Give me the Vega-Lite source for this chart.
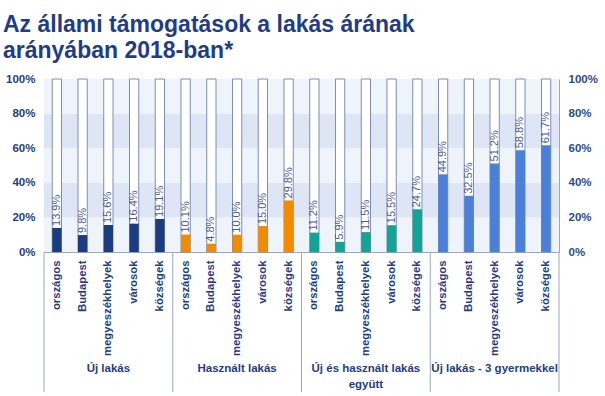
{
  "$schema": "https://vega.github.io/schema/vega-lite/v6.json",
  "autosize": {"type": "none"},
  "width": 515,
  "height": 173,
  "padding": {"left": 44, "top": 79, "right": 46, "bottom": 144},
  "background": "white",
  "title": {
    "text": ["Az állami támogatások a lakás árának", "arányában 2018-ban*"],
    "anchor": "start",
    "frame": "group",
    "font": "Liberation Sans",
    "fontWeight": "bold",
    "fontSize": 23,
    "color": "#1f3c88",
    "lineHeight": 26,
    "dx": -41,
    "offset": 10
  },
  "config": {"view": {"stroke": null}},
  "datasets": {
    "bars": [
      {"key": "1 országos", "group": "Új lakás", "value": 0.139},
      {"key": "1 Budapest", "group": "Új lakás", "value": 0.098},
      {"key": "1 megyeszékhelyek", "group": "Új lakás", "value": 0.156},
      {"key": "1 városok", "group": "Új lakás", "value": 0.164},
      {"key": "1 községek", "group": "Új lakás", "value": 0.191},
      {"key": "2 országos", "group": "Használt lakás", "value": 0.101},
      {"key": "2 Budapest", "group": "Használt lakás", "value": 0.048},
      {"key": "2 megyeszékhelyek", "group": "Használt lakás", "value": 0.100},
      {"key": "2 városok", "group": "Használt lakás", "value": 0.150},
      {"key": "2 községek", "group": "Használt lakás", "value": 0.298},
      {"key": "3 országos", "group": "Új és használt lakás együtt", "value": 0.112},
      {"key": "3 Budapest", "group": "Új és használt lakás együtt", "value": 0.059},
      {"key": "3 megyeszékhelyek", "group": "Új és használt lakás együtt", "value": 0.115},
      {"key": "3 városok", "group": "Új és használt lakás együtt", "value": 0.155},
      {"key": "3 községek", "group": "Új és használt lakás együtt", "value": 0.247},
      {"key": "4 országos", "group": "Új lakás - 3 gyermekkel", "value": 0.449},
      {"key": "4 Budapest", "group": "Új lakás - 3 gyermekkel", "value": 0.325},
      {"key": "4 megyeszékhelyek", "group": "Új lakás - 3 gyermekkel", "value": 0.512},
      {"key": "4 városok", "group": "Új lakás - 3 gyermekkel", "value": 0.588},
      {"key": "4 községek", "group": "Új lakás - 3 gyermekkel", "value": 0.617}
    ],
    "bands": [
      {"lo": 0.0, "hi": 0.2, "shade": "light"},
      {"lo": 0.2, "hi": 0.4, "shade": "dark"},
      {"lo": 0.4, "hi": 0.6, "shade": "light"},
      {"lo": 0.6, "hi": 0.8, "shade": "dark"},
      {"lo": 0.8, "hi": 1.0, "shade": "light"}
    ],
    "groups": [
      {"key": "1 megyeszékhelyek", "label": "Új lakás"},
      {"key": "2 megyeszékhelyek", "label": "Használt lakás"},
      {"key": "3 megyeszékhelyek", "label": "Új és használt lakás\negyütt"},
      {"key": "4 megyeszékhelyek", "label": "Új lakás - 3 gyermekkel"}
    ],
    "seps": [
      {"key": "1 országos", "edge": "start"},
      {"key": "2 országos", "edge": "start"},
      {"key": "3 országos", "edge": "start"},
      {"key": "4 országos", "edge": "start"},
      {"key": "4 községek", "edge": "end"}
    ]
  },
  "resolve": {"axis": {"y": "independent"}},
  "layer": [
    {
      "data": {"name": "bands"},
      "mark": {"type": "rect"},
      "encoding": {
        "y": {
          "field": "lo", "type": "quantitative",
          "scale": {"domain": [0, 1], "nice": false},
          "axis": {
            "orient": "left", "values": [0, 0.2, 0.4, 0.6, 0.8, 1], "format": "%",
            "title": null, "grid": false, "ticks": false,
            "domain": true, "domainColor": "#9aa6c8", "domainWidth": 1,
            "labelFont": "Liberation Sans", "labelFontWeight": "bold", "labelFontSize": 11.5,
            "labelColor": "#1f3c88", "labelPadding": 9
          }
        },
        "y2": {"field": "hi"},
        "fill": {
          "field": "shade", "type": "nominal",
          "scale": {"domain": ["light", "dark"], "range": ["#eff3fa", "#dee6f5"]},
          "legend": null
        }
      }
    },
    {
      "data": {"name": "bars"},
      "mark": {"type": "bar", "width": {"band": 0.36}, "fill": "white", "stroke": "#7d8db8", "strokeWidth": 1},
      "encoding": {
        "x": {
          "field": "key", "type": "nominal", "sort": null,
          "scale": {
            "domain": ["1 országos", "1 Budapest", "1 megyeszékhelyek", "1 városok", "1 községek",
                       "2 országos", "2 Budapest", "2 megyeszékhelyek", "2 városok", "2 községek",
                       "3 országos", "3 Budapest", "3 megyeszékhelyek", "3 városok", "3 községek",
                       "4 országos", "4 Budapest", "4 megyeszékhelyek", "4 városok", "4 községek"],
            "paddingInner": 0, "paddingOuter": 0
          },
          "axis": {
            "title": null, "labelAngle": -90, "ticks": false,
            "domain": true, "domainColor": "#9aa6c8",
            "labelExpr": "substring(datum.label, 2)",
            "labelFont": "Liberation Sans", "labelFontWeight": "bold", "labelFontSize": 11.3,
            "labelColor": "#1f3c88", "labelPadding": 8
          }
        },
        "y": {
          "datum": 1, "type": "quantitative",
          "scale": {"domain": [0, 1], "nice": false},
          "axis": {
            "orient": "right", "values": [0, 0.2, 0.4, 0.6, 0.8, 1], "format": "%",
            "title": null, "grid": false, "ticks": false,
            "domain": true, "domainColor": "#9aa6c8", "domainWidth": 1,
            "labelFont": "Liberation Sans", "labelFontWeight": "bold", "labelFontSize": 11.5,
            "labelColor": "#2a4a9a", "labelPadding": 9
          }
        }
      }
    },
    {
      "data": {"name": "bars"},
      "mark": {"type": "bar", "width": {"band": 0.36}},
      "encoding": {
        "x": {"field": "key", "type": "nominal", "sort": null},
        "y": {"field": "value", "type": "quantitative", "scale": {"domain": [0, 1], "nice": false}, "axis": null},
        "color": {
          "field": "group", "type": "nominal",
          "scale": {
            "domain": ["Új lakás", "Használt lakás", "Új és használt lakás együtt", "Új lakás - 3 gyermekkel"],
            "range": ["#1b3d80", "#f28b00", "#14a497", "#4c80d8"]
          },
          "legend": null
        }
      }
    },
    {
      "data": {"name": "bars"},
      "mark": {
        "type": "text", "angle": 270, "align": "left", "baseline": "middle", "dx": 2,
        "font": "Liberation Sans", "fontSize": 11, "color": "#4a5c94"
      },
      "encoding": {
        "x": {"field": "key", "type": "nominal", "sort": null},
        "y": {"field": "value", "type": "quantitative", "scale": {"domain": [0, 1], "nice": false}, "axis": null},
        "text": {"field": "value", "type": "quantitative", "format": ".1%"}
      }
    },
    {
      "data": {"name": "groups"},
      "mark": {
        "type": "text", "align": "center", "baseline": "top", "lineBreak": "\n", "lineHeight": 16,
        "font": "Liberation Sans", "fontWeight": "bold", "fontSize": 11.5, "color": "#1f3c88"
      },
      "encoding": {
        "x": {"field": "key", "type": "nominal", "sort": null},
        "y": {"datum": -0.642, "type": "quantitative", "scale": {"domain": [0, 1], "nice": false}, "axis": null},
        "text": {"field": "label", "type": "nominal"}
      }
    },
    {
      "data": {"name": "seps"},
      "transform": [{"filter": "datum.edge === 'start'"}],
      "mark": {"type": "rule", "color": "#9aa6c8", "strokeWidth": 1},
      "encoding": {
        "x": {"field": "key", "type": "nominal", "sort": null, "bandPosition": 0},
        "y": {"datum": 0, "type": "quantitative", "scale": {"domain": [0, 1], "nice": false}, "axis": null},
        "y2": {"datum": -0.81}
      }
    },
    {
      "data": {"name": "seps"},
      "transform": [{"filter": "datum.edge === 'end'"}],
      "mark": {"type": "rule", "color": "#9aa6c8", "strokeWidth": 1},
      "encoding": {
        "x": {"field": "key", "type": "nominal", "sort": null, "bandPosition": 1},
        "y": {"datum": 0, "type": "quantitative", "scale": {"domain": [0, 1], "nice": false}, "axis": null},
        "y2": {"datum": -0.81}
      }
    }
  ]
}
